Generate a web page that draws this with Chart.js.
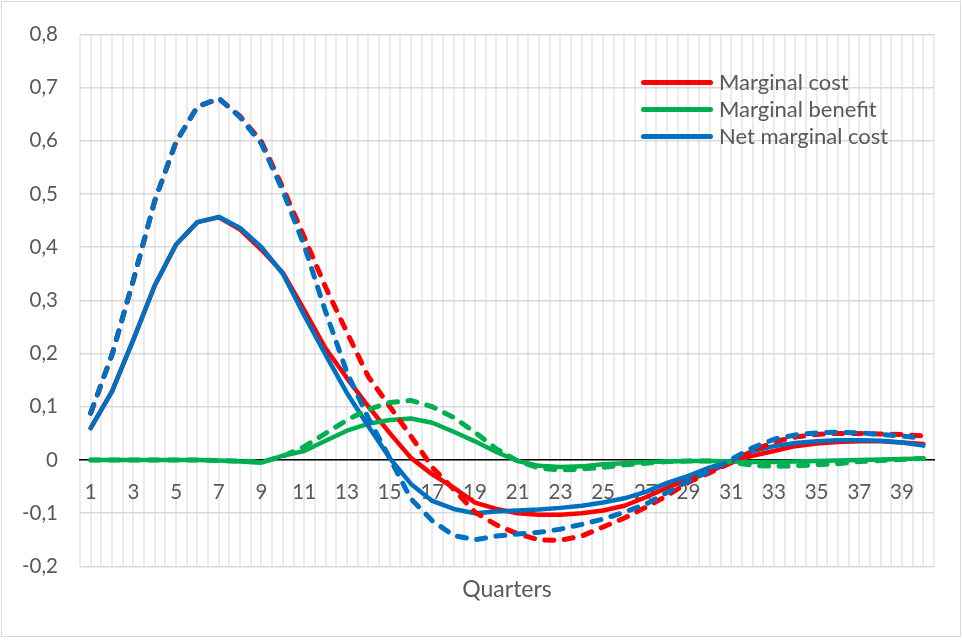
<!DOCTYPE html>
<html>
<head>
<meta charset="utf-8">
<script src="https://cdn.jsdelivr.net/npm/chart.js@4/dist/chart.umd.min.js"></script>
<style>
body { margin: 0; background: #fff; }
#wrap { position: relative; width: 963px; height: 640px; }
#frame { position: absolute; left: 1px; top: 1px; width: 958px; height: 634px; border: 1px solid #d9d9d9; pointer-events: none; }
#legend { position: absolute; left: 641px; top: 68px; font-family: Lato, "Open Sans", sans-serif; font-size: 22px; color: #595959; }
.row { position: relative; height: 27px; }
.row .ln { position: absolute; left: 0; top: 12px; width: 72px; height: 4.5px; border-radius: 3px; }
.row .tx { position: absolute; left: 78px; top: 0; line-height: 27px; white-space: nowrap; }
</style>
</head>
<body>
<div id="wrap">
  <canvas id="myChart"></canvas>
  <div id="legend"></div>
  <div id="frame"></div>
</div>
<script>
var quarters = [];
for (var q = 1; q <= 40; q++) quarters.push(q);

var seriesNames = ["Marginal cost", "Marginal benefit", "Net marginal cost"];
var seriesColors = ["#ff0000", "#00b050", "#0070c0"];

// solid lines
var marginal_cost = [0.060, 0.129, 0.226, 0.328, 0.405, 0.447, 0.456, 0.433, 0.395, 0.352,
  0.282, 0.210, 0.154, 0.101, 0.051, 0.004, -0.027, -0.052, -0.080, -0.092,
  -0.100, -0.103, -0.103, -0.100, -0.095, -0.086, -0.070, -0.052, -0.036, -0.021,
  -0.005, 0.008, 0.017, 0.026, 0.031, 0.034, 0.035, 0.035, 0.033, 0.030];
var marginal_benefit = [0, 0, 0, 0, 0, 0, -0.001, -0.003, -0.005, 0.008,
  0.017, 0.036, 0.055, 0.068, 0.075, 0.078, 0.070, 0.053, 0.035, 0.015,
  -0.002, -0.011, -0.013, -0.012, -0.008, -0.006, -0.004, -0.003, -0.002, -0.002,
  -0.003, -0.004, -0.004, -0.003, -0.002, -0.001, 0.000, 0.001, 0.002, 0.003];
var net_marginal_cost = [0.060, 0.129, 0.226, 0.328, 0.405, 0.447, 0.457, 0.436, 0.400, 0.350,
  0.272, 0.198, 0.126, 0.064, 0.004, -0.045, -0.077, -0.092, -0.100, -0.097,
  -0.095, -0.093, -0.090, -0.086, -0.080, -0.072, -0.060, -0.043, -0.030, -0.014,
  -0.002, 0.017, 0.026, 0.032, 0.035, 0.037, 0.037, 0.036, 0.033, 0.027];

// dashed lines (second scenario)
var marginal_cost2 = [0.088, 0.198, 0.338, 0.487, 0.598, 0.664, 0.679, 0.646, 0.598, 0.512,
  0.419, 0.325, 0.240, 0.157, 0.101, 0.045, -0.014, -0.055, -0.098, -0.122,
  -0.139, -0.150, -0.151, -0.143, -0.126, -0.109, -0.089, -0.067, -0.042, -0.024,
  -0.005, 0.017, 0.034, 0.043, 0.048, 0.050, 0.050, 0.049, 0.048, 0.045];
var marginal_benefit2 = [0, 0, 0, 0, 0, 0, -0.001, -0.002, -0.004, 0.007,
  0.025, 0.050, 0.075, 0.095, 0.108, 0.112, 0.100, 0.080, 0.052, 0.021,
  -0.002, -0.015, -0.019, -0.017, -0.014, -0.009, -0.006, -0.003, -0.002, -0.002,
  -0.004, -0.010, -0.012, -0.011, -0.009, -0.007, -0.003, -0.001, 0.001, 0.003];
var net_marginal_cost2 = [0.088, 0.198, 0.338, 0.487, 0.598, 0.664, 0.680, 0.644, 0.594, 0.506,
  0.403, 0.279, 0.165, 0.079, 0.004, -0.073, -0.114, -0.142, -0.150, -0.143,
  -0.139, -0.136, -0.130, -0.121, -0.111, -0.098, -0.083, -0.061, -0.039, -0.021,
  0.001, 0.023, 0.039, 0.047, 0.051, 0.052, 0.051, 0.048, 0.045, 0.041];

var yTicks = [-0.2, -0.1, 0, 0.1, 0.2, 0.3, 0.4, 0.5, 0.6, 0.7, 0.8];

var fontFam = "Lato, 'Open Sans', sans-serif";
var textColor = "#595959";

function pts(arr) {
  return quarters.map(function (q, i) { return { x: q, y: arr[i] }; });
}

function line(label, arr, color, dashed, order) {
  return {
    label: label,
    data: pts(arr),
    borderColor: color,
    backgroundColor: color,
    borderWidth: dashed ? 5 : 4.5,
    borderDash: dashed ? [9, 10.5] : [],
    borderCapStyle: "round",
    borderJoinStyle: "round",
    pointRadius: 0,
    tension: 0,
    fill: false,
    order: order
  };
}

// excel draws later series on top
var datasets = [
  line(seriesNames[0], marginal_cost, seriesColors[0], false, 6),
  line(seriesNames[1], marginal_benefit, seriesColors[1], false, 5),
  line(seriesNames[2], net_marginal_cost, seriesColors[2], false, 4),
  line(seriesNames[0] + " 2", marginal_cost2, seriesColors[0], true, 3),
  line(seriesNames[1] + " 2", marginal_benefit2, seriesColors[1], true, 2),
  line(seriesNames[2] + " 2", net_marginal_cost2, seriesColors[2], true, 1)
];

new Chart("myChart", {
  type: "line",
  data: { datasets: datasets },
  options: {
    responsive: true,
    maintainAspectRatio: false,
    animation: false,
    layout: { padding: { left: 0, top: 31, right: 29, bottom: 0 } },
    plugins: {
      legend: { display: false },
      tooltip: { enabled: false },
      title: {
        display: true,
        text: "Quarters",
        position: "bottom",
        fullSize: false,
        color: textColor,
        font: { family: fontFam, size: 23, weight: "normal" },
        padding: { top: 9.5, bottom: 36.5 }
      }
    },
    scales: {
      x: {
        type: "linear",
        axis: "x",
        position: { y: 0 },
        min: 0.5,
        max: 40.5,
        grid: { color: "#ebebeb", lineWidth: 2, drawTicks: false },
        border: { display: true, color: "#000000", width: 1.5 },
        ticks: {
          stepSize: 0.5,
          autoSkip: false,
          maxRotation: 0,
          padding: 20,
          color: textColor,
          font: { family: fontFam, size: 20.5 },
          callback: function (v) {
            return (Number.isInteger(v) && v % 2 === 1) ? String(v) : "";
          }
        }
      },
      y: {
        min: yTicks[0],
        max: yTicks[yTicks.length - 1],
        afterFit: function (scale) { scale.width = 80; },
        grid: { color: "#d9d9d9", lineWidth: 1.5, drawTicks: false },
        border: { display: false },
        ticks: {
          stepSize: 0.1,
          padding: 22,
          color: textColor,
          font: { family: fontFam, size: 20.5 },
          callback: function (v) {
            var r = Math.round(v * 10) / 10;
            return r === 0 ? "0" : r.toFixed(1).replace(".", ",");
          }
        }
      }
    }
  }
});

// legend box inside the plot, only the solid series
var lg = document.getElementById("legend");
for (var k = 0; k < seriesNames.length; k++) {
  var row = document.createElement("div");
  row.className = "row";
  row.innerHTML = '<div class="ln" style="background:' + seriesColors[k] + '"></div><div class="tx">' + seriesNames[k] + '</div>';
  lg.appendChild(row);
}
</script>
</body>
</html>
